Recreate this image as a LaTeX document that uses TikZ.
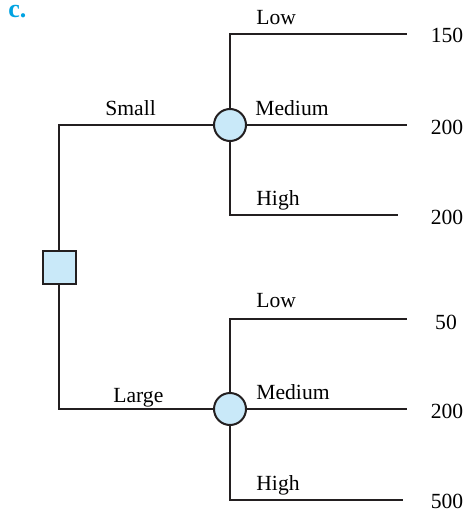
\documentclass[tikz,border=0pt]{standalone}
\usepackage{fontspec}
\setmainfont{Liberation Serif}
\usetikzlibrary{positioning}
\definecolor{nodefill}{RGB}{201,233,249}
\definecolor{partcyan}{RGB}{0,163,226}
\definecolor{edge}{RGB}{35,31,32}

\begin{document}
\begin{tikzpicture}[x=0.5pt,y=-0.5pt,
    branch/.style={draw=edge,line width=1pt},
    chance/.style={circle,draw=edge,fill=nodefill,line width=1pt,
      minimum size=16pt,inner sep=0pt},
    decision/.style={rectangle,draw=edge,fill=nodefill,line width=1pt,
      minimum size=16.5pt,inner sep=0pt},
    lab/.style={anchor=base west,inner sep=0pt,
      font=\fontsize{10.8}{13}\selectfont},
    payoff/.style={inner sep=0pt,font=\fontsize{10.8}{13}\selectfont}]
  \useasboundingbox (0,0) rectangle (467,514);
  \node[anchor=base west,inner sep=0pt,text=partcyan,
    font=\bfseries\fontsize{13}{15}\selectfont] (part) at (8,18) {c.};

  % decision and chance nodes
  \node[decision] (dec) at (59,267) {};
  \node[chance] (small) at (230,125) {};
  \node[chance] (large) at (230,409) {};

  % end points of the branches
  \coordinate (sLow) at (407,34);
  \coordinate (sMed) at (407,125);
  \coordinate (sHigh) at (398,215);
  \coordinate (lLow) at (407,319);
  \coordinate (lMed) at (407,409);
  \coordinate (lHigh) at (403,500);

  \draw[branch] (dec) |- (small);
  \draw[branch] (dec) |- (large);
  \draw[branch] (small) |- (sLow);
  \draw[branch] (small) -- (sMed);
  \draw[branch] (small) |- (sHigh);
  \draw[branch] (large) |- (lLow);
  \draw[branch] (large) -- (lMed);
  \draw[branch] (large) |- (lHigh);

  % branch labels
  \node[lab] (tSmall) at (105,115) {Small};
  \node[lab] (tLarge) at (113,402) {Large};
  \node[lab] (tsLow) at (256,25) {Low};
  \node[lab] (tsMed) at (255,115) {Medium};
  \node[lab] (tsHigh) at (256,205) {High};
  \node[lab] (tlLow) at (256,307) {Low};
  \node[lab] (tlMed) at (256,399) {Medium};
  \node[lab] (tlHigh) at (256,490) {High};

  % payoffs
  \node[payoff] (v1) at (447,35) {150};
  \node[payoff] (v2) at (447,127) {200};
  \node[payoff] (v3) at (447,217) {200};
  \node[payoff] (v4) at (446,322) {50};
  \node[payoff] (v5) at (447,411) {200};
  \node[payoff] (v6) at (447,501) {500};
\end{tikzpicture}
\end{document}
